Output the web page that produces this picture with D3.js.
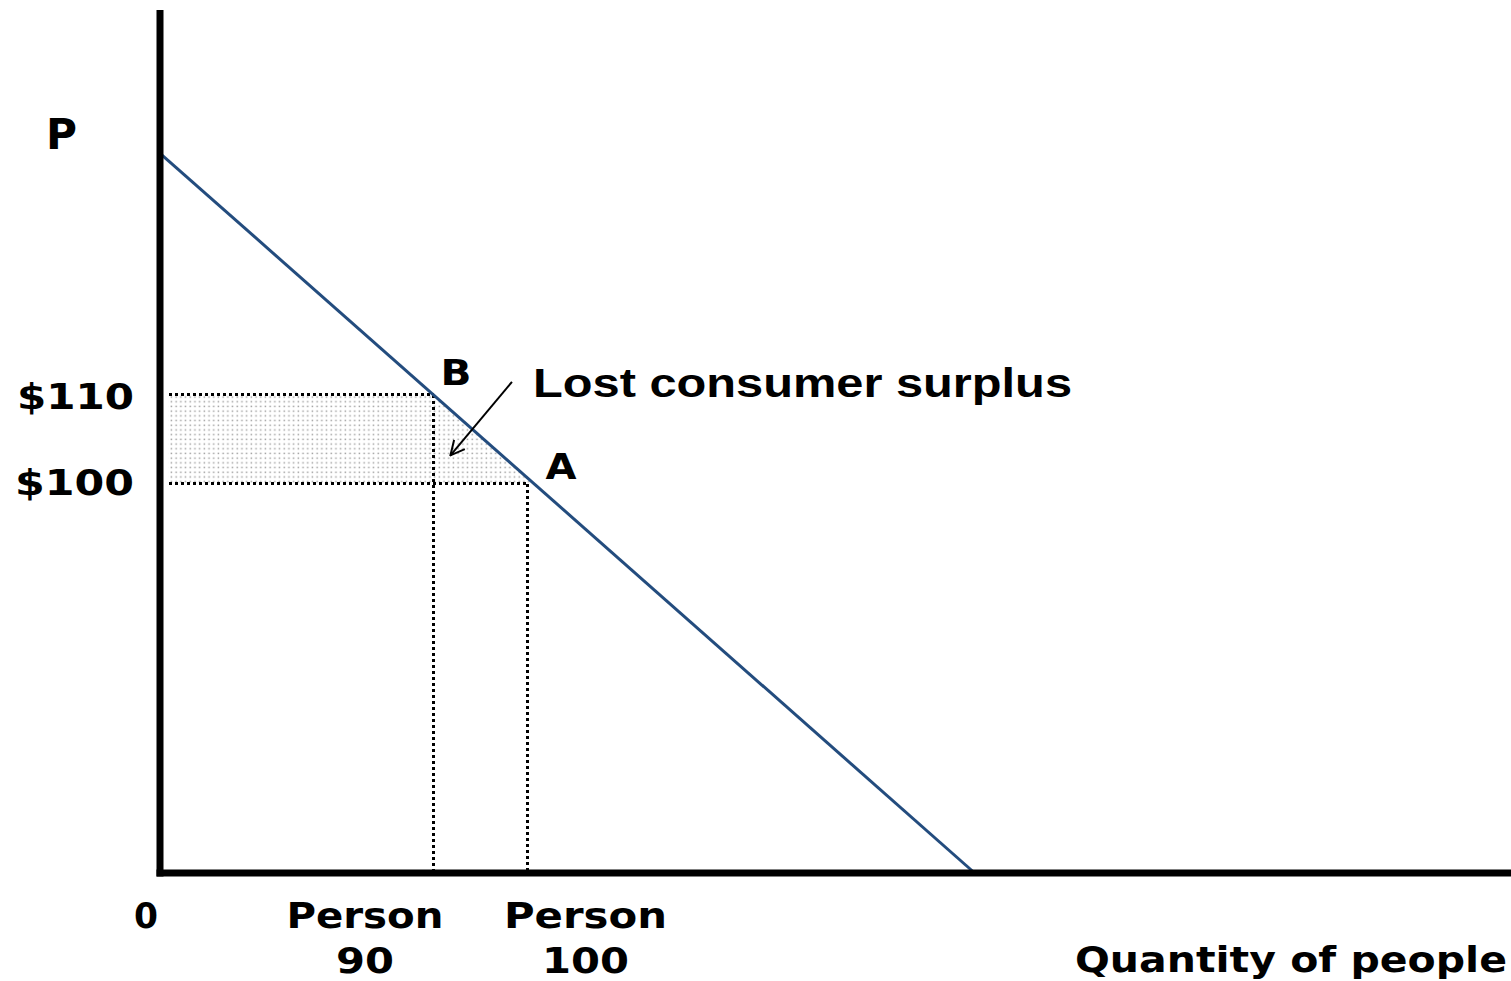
<!DOCTYPE html>
<html>
<head>
<meta charset="utf-8">
<script src="https://cdn.jsdelivr.net/npm/d3@7"></script>
<style>
  body { margin: 0; background: #fff; }
  svg { display: block; }
  .lbl { font-family: "DejaVu Sans", Verdana, sans-serif; font-weight: bold; font-size: 36px; fill: #000; }
</style>
</head>
<body>
<svg></svg>
<script>
// Datos del diagrama (unidades abstractas del gráfico, 0-100 en cada eje)
var demand = [ { q: 0, p: 83.4 }, { q: 60.3, p: 0 } ];   // curva de demanda
var priceLevels = [55.5, 45.2];                          // $110, $100
var priceLabels = ["$110", "$100"];
var qtyLevels = [20.2, 27.2];                            // persona 90, persona 100
var qtyLabels = [["Person", "90"], ["Person", "100"]];
var pointLabels = ["B", "A"];
var surplusLabel = "Lost consumer surplus";
var axisLabelY = "P";
var axisLabelX = "Quantity of people";

var svgWidth = 1511, svgHeight = 981;

var svg = d3.select("svg")
    .attr("width", svgWidth)
    .attr("height", svgHeight);

// Escalas
var x = d3.scaleLinear().domain([0, 100]).range([160, 1511]);
var y = d3.scaleLinear().domain([0, 100]).range([873, 10]);

// precio -> cantidad sobre la recta de demanda
function qAt(p) {
    return demand[1].q * (1 - p / demand[0].p);
}

// patrón punteado para el área sombreada
var defs = svg.append("defs");
var pat = defs.append("pattern")
    .attr("id", "dots")
    .attr("patternUnits", "userSpaceOnUse")
    .attr("width", 4.7)
    .attr("height", 4.7);
pat.append("rect")
    .attr("x", 1.5).attr("y", 1.5)
    .attr("width", 1.5).attr("height", 1.5)
    .attr("fill", "#a0a0a0");

defs.append("marker")
    .attr("id", "arrow")
    .attr("markerUnits", "userSpaceOnUse")
    .attr("viewBox", "0 0 16 16")
    .attr("refX", 15).attr("refY", 8)
    .attr("markerWidth", 16).attr("markerHeight", 16)
    .attr("orient", "auto")
    .append("path")
    .attr("d", "M1,1 L15,8 L1,15")
    .attr("fill", "none")
    .attr("stroke", "#000")
    .attr("stroke-width", 2);

// Área de excedente perdido
var q0 = 0.6;
var area = [
    [q0, priceLevels[0]],
    [qAt(priceLevels[0]), priceLevels[0]],
    [qAt(priceLevels[1]), priceLevels[1]],
    [q0, priceLevels[1]]
];
svg.append("path")
    .attr("d", "M" + area.map(function(d) { return x(d[0]) + "," + y(d[1]); }).join("L") + "Z")
    .attr("fill", "url(#dots)");

// Líneas punteadas
var dotted = [
    [[q0, priceLevels[0]], [qtyLevels[0], priceLevels[0]]],
    [[q0, priceLevels[1]], [qtyLevels[1], priceLevels[1]]],
    [[qtyLevels[0], priceLevels[0]], [qtyLevels[0], 0]],
    [[qtyLevels[1], priceLevels[1]], [qtyLevels[1], 0]]
];
svg.selectAll(".guide")
    .data(dotted)
    .enter().append("line")
    .attr("class", "guide")
    .attr("x1", function(d) { return Math.round(x(d[0][0])) + 0.5; })
    .attr("y1", function(d) { return Math.round(y(d[0][1])) + 0.5; })
    .attr("x2", function(d) { return Math.round(x(d[1][0])) + 0.5; })
    .attr("y2", function(d) { return Math.round(y(d[1][1])) + 0.5; })
    .attr("stroke", "#000")
    .attr("stroke-width", 3)
    .attr("stroke-dasharray", "3,3")
    .attr("shape-rendering", "crispEdges");

// Recta de demanda
var line = d3.line()
    .x(function(d) { return x(d.q); })
    .y(function(d) { return y(d.p); });
svg.append("path")
    .datum(demand)
    .attr("fill", "none")
    .attr("stroke", "#234c7e")
    .attr("stroke-width", 3)
    .attr("d", line);

// Ejes
svg.append("line")
    .attr("x1", x(0)).attr("y1", y(100))
    .attr("x2", x(0)).attr("y2", y(0) + 3.5)
    .attr("stroke", "#000").attr("stroke-width", 7);
svg.append("line")
    .attr("x1", x(0) - 3.5).attr("y1", y(0))
    .attr("x2", x(100)).attr("y2", y(0))
    .attr("stroke", "#000").attr("stroke-width", 7);

// Flecha hacia el área
svg.append("line")
    .attr("x1", x(26.05)).attr("y1", y(56.9))
    .attr("x2", x(21.5)).attr("y2", y(48.4))
    .attr("stroke", "#000")
    .attr("stroke-width", 2)
    .attr("marker-end", "url(#arrow)");

// Textos
function label(txt, px, py, len, anchor) {
    return svg.append("text")
        .attr("class", "lbl")
        .attr("x", px).attr("y", py)
        .attr("text-anchor", anchor || "start")
        .attr("textLength", len)
        .attr("lengthAdjust", "spacingAndGlyphs")
        .text(txt);
}

label(axisLabelY, 46, 149, 31).style("font-size", "42px");

label(priceLabels[0], 134, y(priceLevels[0]) + 15, 117, "end");
label(priceLabels[1], 134, y(priceLevels[1]) + 12, 119, "end");

label("0", x(0) - 14, 928, 24, "middle");

var qOffsets = [-68, 58];
var qWidths = [[157, 58], [163, 87]];
qtyLabels.forEach(function(l, i) {
    label(l[0], x(qtyLevels[i]) + qOffsets[i], 928, qWidths[i][0], "middle");
    label(l[1], x(qtyLevels[i]) + qOffsets[i], 973, qWidths[i][1], "middle");
});

label(axisLabelX, 1507, 972, 432, "end");

label(pointLabels[0], x(qAt(priceLevels[0])) + 8, y(priceLevels[0]) - 9, 31);
label(pointLabels[1], x(qtyLevels[1]) + 18, y(priceLevels[1]) - 4, 31);

label(surplusLabel, 533, 397, 539)
    .style("font-family", "'Liberation Sans', Arial, sans-serif")
    .style("font-size", "40px");
</script>
</body>
</html>
